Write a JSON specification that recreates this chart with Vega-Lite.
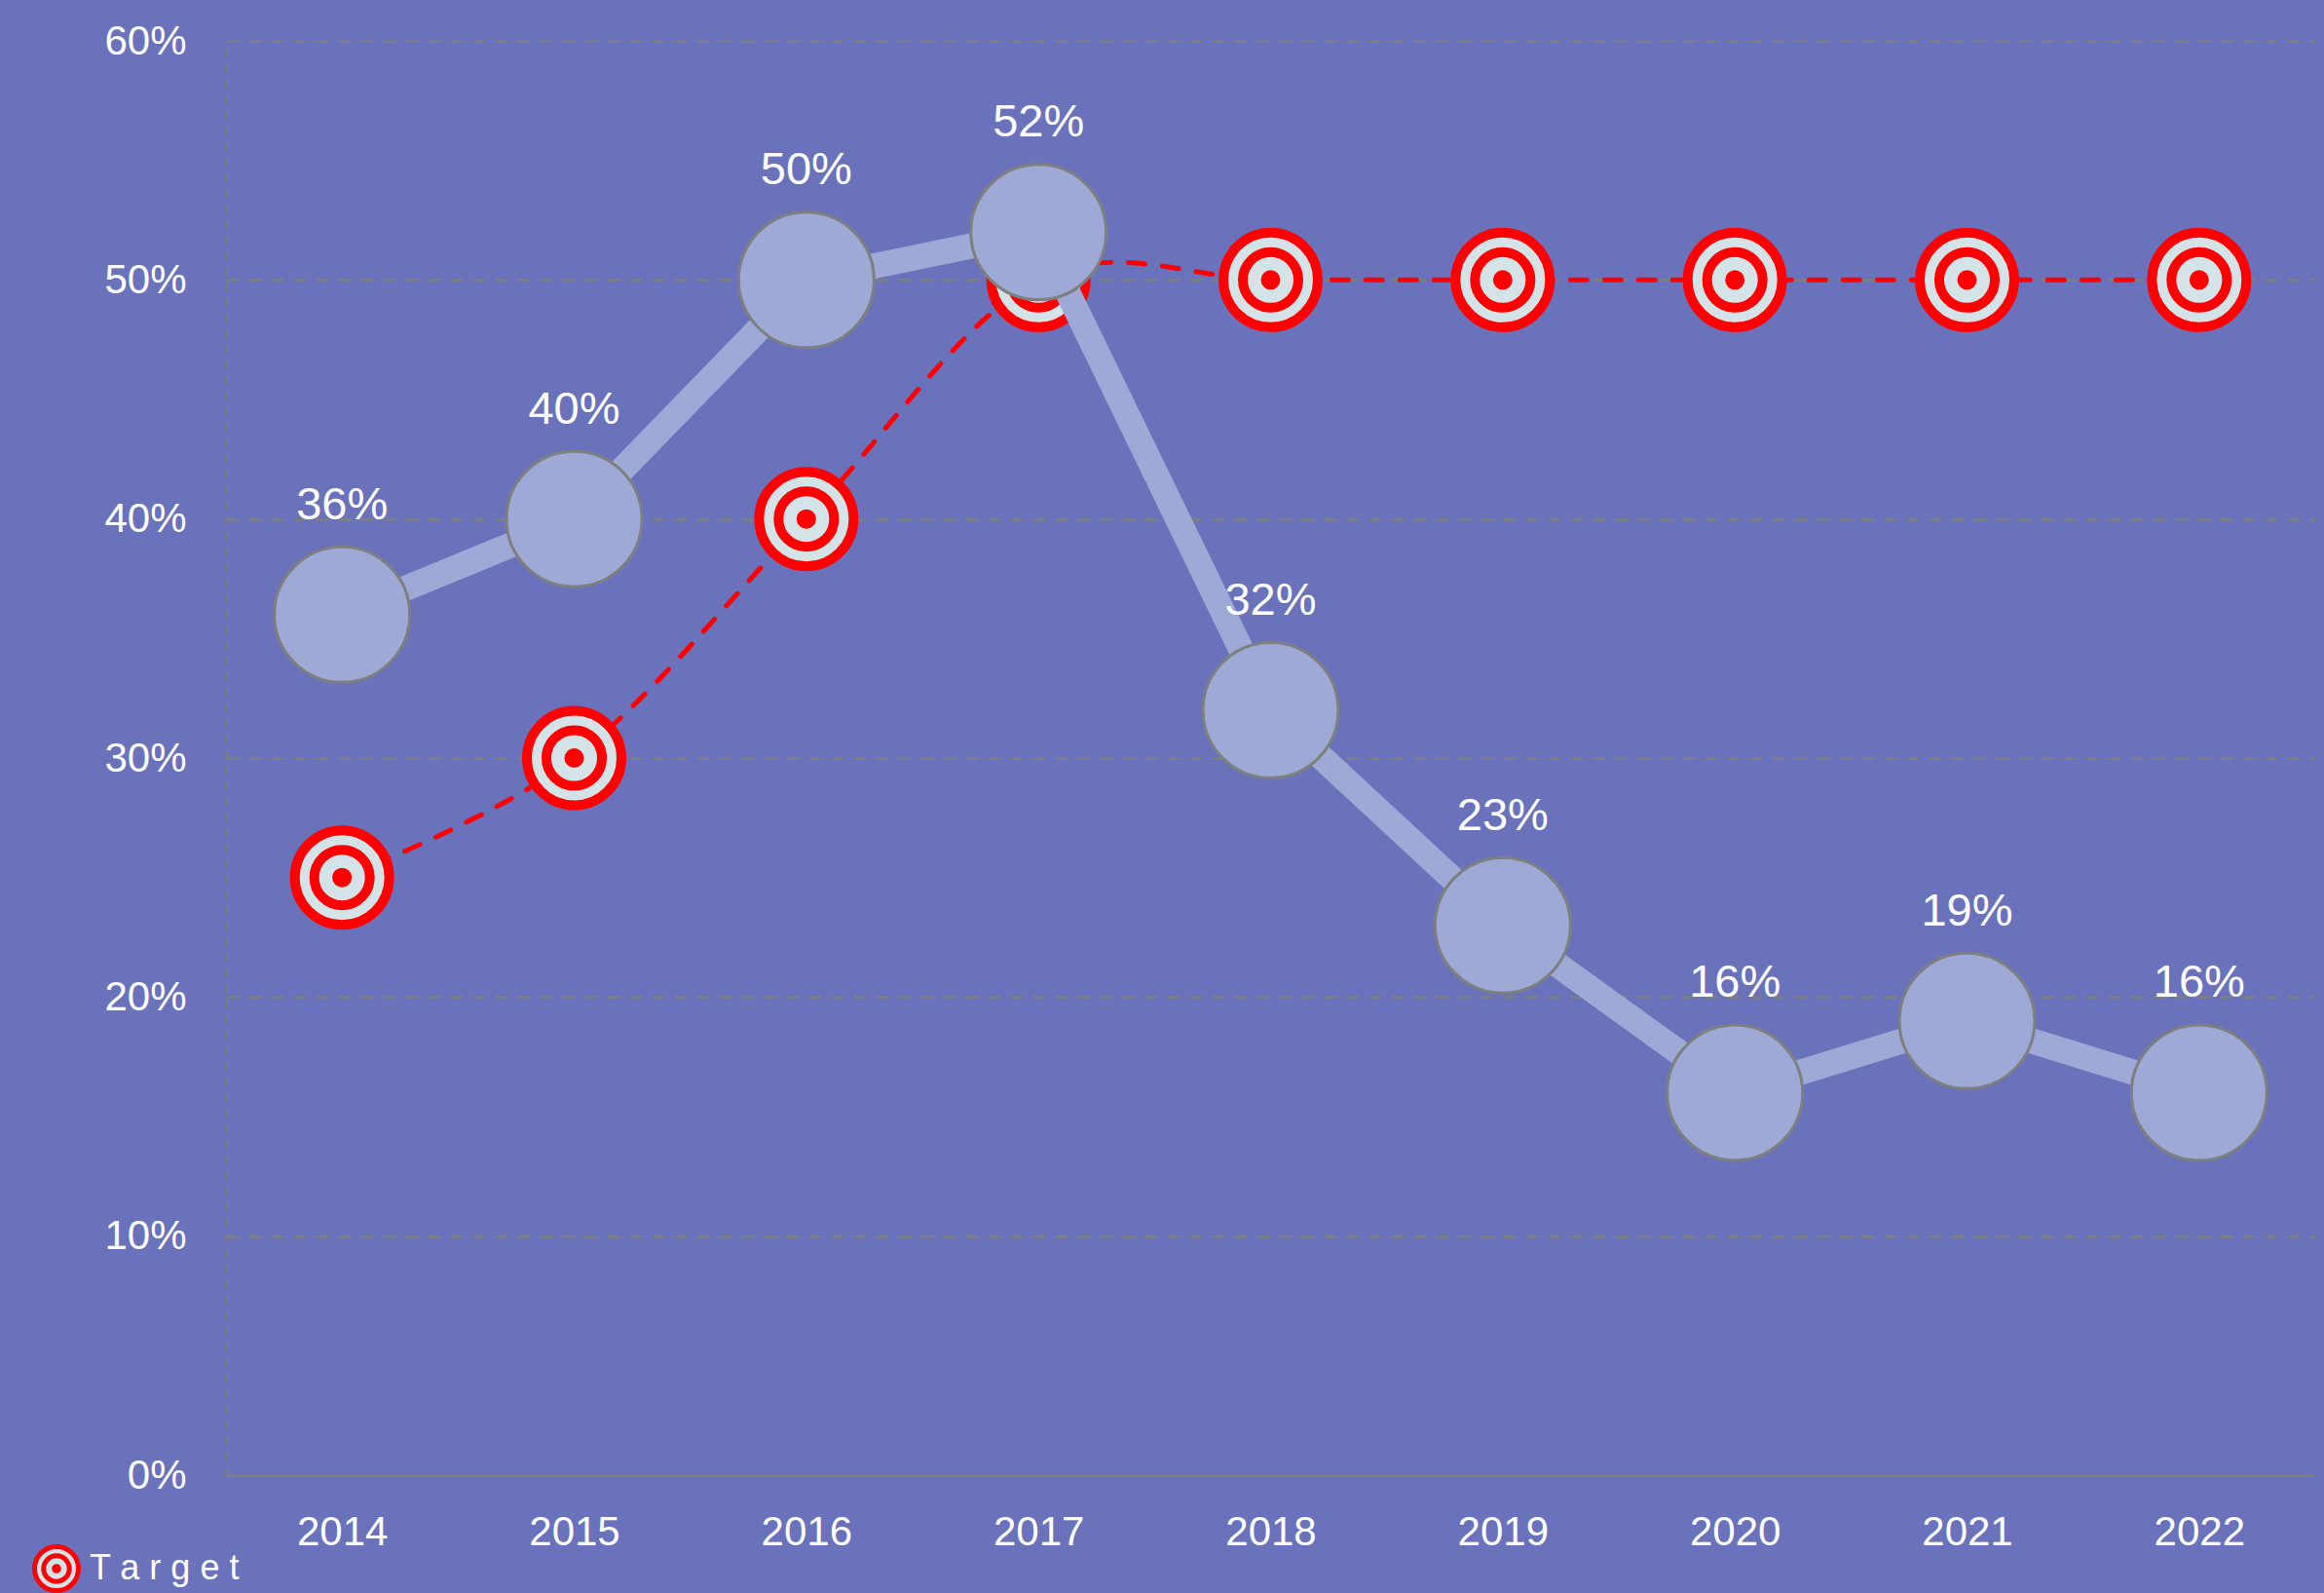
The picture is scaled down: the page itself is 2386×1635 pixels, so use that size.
{"$schema":"https://vega.github.io/schema/vega-lite/v6.json","width":2145,"height":1472,"autosize":{"type":"none"},"padding":{"left":232,"top":42,"right":9,"bottom":121},"background":"#6b72bc","config":{"view":{"stroke":null},"legend":{"symbolStrokeWidth":5}},"data":{"values":[{"year":"2014","actual":0.36,"target":0.25},{"year":"2015","actual":0.40,"target":0.30},{"year":"2016","actual":0.50,"target":0.40},{"year":"2017","actual":0.52,"target":0.50},{"year":"2018","actual":0.32,"target":0.50},{"year":"2019","actual":0.23,"target":0.50},{"year":"2020","actual":0.16,"target":0.50},{"year":"2021","actual":0.19,"target":0.50},{"year":"2022","actual":0.16,"target":0.50}]},"encoding":{"x":{"field":"year","type":"ordinal","scale":{"type":"point","padding":0.5},"title":null,"axis":{"labelAngle":0,"labelFont":"Liberation Sans","labelFontSize":42,"labelColor":"#ffffff","labelPadding":38,"ticks":false,"domainColor":"#7f7f7f","domainWidth":3,"grid":false}}},"layer":[{"mark":{"type":"line","interpolate":"cardinal","stroke":"#ff0000","strokeWidth":5,"strokeDash":[17,18],"strokeCap":"round"},"encoding":{"y":{"field":"target","type":"quantitative","scale":{"domain":[0,0.6]},"title":null,"axis":{"values":[0,0.1,0.2,0.3,0.4,0.5,0.6],"format":".0%","labelFont":"Liberation Sans","labelFontSize":42,"labelColor":"#ffffff","labelPadding":41,"ticks":false,"domainColor":"#7f7f7f","domainWidth":2,"domainDash":[8,8],"grid":true,"gridColor":"#7f7f7f","gridWidth":2.5,"gridDash":[13,10]}}}},{"mark":{"type":"point","filled":true,"size":9409,"shape":"M-1,0A1,1,0,1,1,1,0A1,1,0,1,1,-1,0ZM-0.588,0A0.588,0.588,0,1,1,0.588,0A0.588,0.588,0,1,1,-0.588,0ZM-0.103,0A0.103,0.103,0,1,1,0.103,0A0.103,0.103,0,1,1,-0.103,0Z","fill":"#d3e3e8","stroke":"#ff0000","strokeWidth":10},"encoding":{"y":{"field":"target","type":"quantitative"},"opacity":{"datum":"Target","type":"nominal","scale":{"range":[1]},"legend":{"orient":"none","legendX":-199,"legendY":1543,"title":null,"padding":0,"symbolType":"M-1,0A1,1,0,1,1,1,0A1,1,0,1,1,-1,0ZM-0.588,0A0.588,0.588,0,1,1,0.588,0A0.588,0.588,0,1,1,-0.588,0ZM-0.103,0A0.103,0.103,0,1,1,0.103,0A0.103,0.103,0,1,1,-0.103,0Z","symbolSize":2025,"symbolStrokeWidth":5,"labelFont":"Liberation Sans","labelFontSize":36,"labelColor":"#ffffff","labelOffset":9,"labelLimit":400,"labelExpr":"'T a r g e t'","encode":{"symbols":{"strokeWidth":{"value":5}}}}}}},{"mark":{"type":"line","stroke":"#9fa9d5","strokeWidth":26},"encoding":{"y":{"field":"actual","type":"quantitative"}}},{"mark":{"type":"point","filled":true,"size":19321,"fill":"#9fa9d5","stroke":"#7f7f7f","strokeWidth":3,"opacity":1},"encoding":{"y":{"field":"actual","type":"quantitative"}}},{"mark":{"type":"text","font":"Liberation Sans","fontSize":47,"color":"#ffffff","dy":-98,"baseline":"alphabetic"},"encoding":{"y":{"field":"actual","type":"quantitative"},"text":{"field":"actual","type":"quantitative","format":".0%"}}}]}
